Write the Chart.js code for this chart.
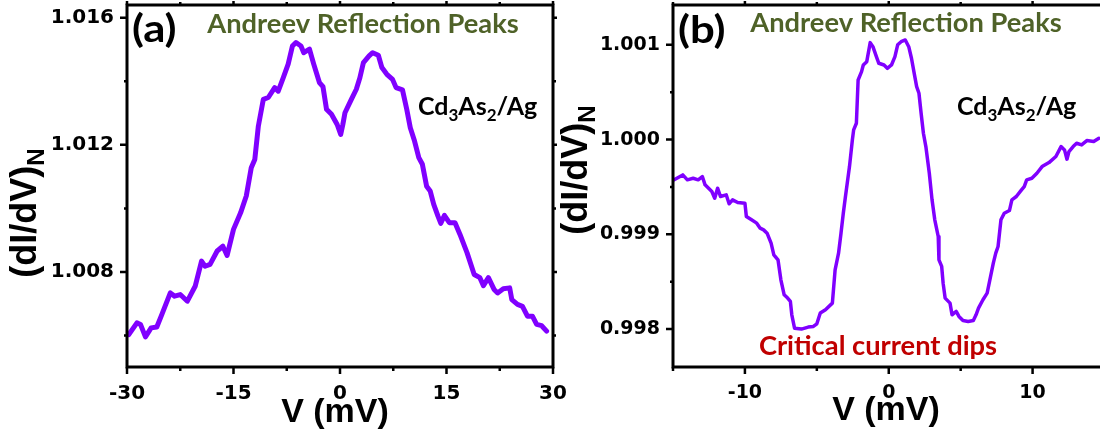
<!DOCTYPE html>
<html>
<head>
<meta charset="utf-8">
<script src="https://cdn.jsdelivr.net/npm/chart.js@4"></script>
<style>
  html, body { margin: 0; padding: 0; background: #fff; }
  #wrap { position: relative; width: 1100px; height: 432px; overflow: hidden; }
  #chartA { position: absolute; left: 0; top: 0; }
  #chartB { position: absolute; left: 560px; top: 0; }
</style>
</head>
<body>
<div id="wrap">
  <canvas id="chartA" width="580" height="432"></canvas>
  <canvas id="chartB" width="550" height="432"></canvas>
</div>
<script>
// panel (a): bias sweep -30..30 mV
const biasA = [-29.75,-28.6,-28.1,-27.4,-26.6,-25.8,-25.1,-23.9,-23.3,-22.5,-21.5,-20.4,-19.5,-19.0,-18.3,-17.3,-16.5,-15.9,-15.0,-14.0,
  -13.2,-12.5,-12.0,-11.5,-10.8,-10.1,-9.2,-8.7,-8.0,-7.3,-6.7,-6.2,-5.5,-5.1,-4.3,-3.7,-2.9,-2.4,-1.9,-1.2,
  -0.4,0.1,0.4,0.7,1.6,2.3,2.8,3.3,4.1,4.6,5.4,5.9,6.6,7.4,7.9,8.8,9.4,9.9,10.5,11.1,
  11.6,12.2,12.7,13.2,13.8,14.2,14.7,15.4,16.2,16.9,17.9,18.9,19.7,20.2,20.9,21.7,22.2,23.0,23.9,24.2,
  25.0,25.7,26.4,27.1,27.7,28.4,29.1];
const condA = [1.00603,1.00640,1.00635,1.00596,1.00624,1.00627,1.00666,1.00734,1.00724,1.00729,1.00708,1.00755,1.00834,1.00818,1.00824,1.00866,1.00881,1.00852,1.00934,1.00986,
  1.01039,1.01128,1.01154,1.01259,1.01343,1.01349,1.01380,1.01369,1.01411,1.01454,1.01511,1.01522,1.01511,1.01490,1.01501,1.01454,1.01396,1.01383,1.01312,1.01296,
  1.01264,1.01233,1.01264,1.01301,1.01343,1.01375,1.01411,1.01459,1.01480,1.01490,1.01482,1.01443,1.01422,1.01406,1.01380,1.01373,1.01312,1.01254,1.01212,1.01160,
  1.01139,1.01070,1.01055,1.01013,1.00976,1.00953,1.00978,1.00955,1.00955,1.00918,1.00860,1.00792,1.00782,1.00757,1.00782,1.00745,1.00734,1.00747,1.00750,1.00713,
  1.00698,1.00692,1.00661,1.00661,1.00635,1.00631,1.00614];
const xTicksA = [-30,-22.5,-15,-7.5,0,7.5,15,22.5,30];
const xLabelsA = [-30,-15,0,15,30];
const yTicksA = [1.006,1.008,1.010,1.012,1.014,1.016];
const yLabelsA = [1.008,1.012,1.016];

// panel (b): bias sweep -15..15 mV
const biasB = [-14.92,-14.32,-14.0,-13.6,-13.25,-12.96,-12.77,-12.3,-12.1,-11.9,
  -11.7,-11.3,-11.1,-10.86,-10.5,-10.0,-9.9,-9.54,-9.18,-8.94,
  -8.7,-8.46,-8.18,-7.99,-7.7,-7.5,-7.27,-7.03,-6.84,-6.74,
  -6.55,-6.07,-5.6,-5.24,-5.0,-4.76,-4.4,-3.92,-3.73,-3.49,
  -3.32,-3.16,-3.01,-2.73,-2.53,-2.44,-2.25,-2.13,-1.89,-1.77,
  -1.53,-1.29,-1.1,-0.86,-0.69,-0.33,-0.1,0.19,0.43,0.62,
  0.86,1.15,1.39,1.58,1.77,1.94,2.1,2.25,2.41,2.58,
  2.82,3.01,3.2,3.44,3.49,3.68,3.78,3.92,4.26,4.4,
  4.69,4.88,5.16,5.52,5.88,6.07,6.24,6.55,6.84,7.03,
  7.27,7.44,7.6,7.8,8.03,8.39,8.56,8.87,9.23,9.42,
  9.59,9.95,10.3,10.66,11.14,11.62,11.98,12.22,12.39,12.53,
  12.82,13.06,13.41,13.77,14.25,14.61];
const condB = [0.999575,0.999627,0.999575,0.999592,0.999575,0.99961,0.999522,0.999452,0.999381,0.999487,
  0.999399,0.999417,0.999322,0.999364,0.999336,0.999329,0.999188,0.999153,0.999118,0.999065,
  0.999047,0.999012,0.998907,0.998784,0.998731,0.99852,0.998362,0.998327,0.998292,0.998151,
  0.99801,0.998,0.998021,0.998028,0.998056,0.998169,0.998204,0.998274,0.998626,0.998801,
  0.999012,0.999223,0.999399,0.999715,0.999996,1.000102,1.000172,1.000629,1.000717,1.000787,
  1.000822,1.001023,1.00098,1.000875,1.000805,1.000787,1.000752,1.000787,1.000875,1.001,
  1.001033,1.001051,1.00098,1.000858,1.000699,1.000559,1.000489,1.000278,1.000067,0.999926,
  0.999645,0.999364,0.999153,0.998977,0.998731,0.998661,0.998485,0.998327,0.998274,0.998151,
  0.998186,0.998134,0.998091,0.998081,0.998091,0.998151,0.998221,0.99831,0.99838,0.99852,
  0.998696,0.998801,0.998872,0.999153,0.999223,0.999251,0.999364,0.999399,0.999469,0.999504,
  0.999575,0.999592,0.999645,0.999715,0.999757,0.999821,0.999926,0.999891,0.999793,0.999874,
  0.999926,0.999961,0.999944,0.999989,0.999979,1.000014];
const xTicksB = [-15,-10,-5,0,5,10,15];
const xLabelsB = [-10,0,10];
const yTicksB = [0.998,0.9985,0.999,0.9995,1.000,1.0005,1.001];
const yLabelsB = [0.998,0.999,1.000,1.001];

const LINE = '#8000ff';
const GREEN = '#4f6228';
const RED = '#c00000';

// box around the plot plus outward tick marks on all four sides
const frameTicks = {
  id: 'frameTicks',
  afterDatasetsDraw(chart, args, opts) {
    const { ctx, chartArea: a, scales: { x, y } } = chart;
    ctx.save();
    ctx.strokeStyle = '#000';
    ctx.lineWidth = 3;
    ctx.strokeRect(a.left, a.top, a.right - a.left, a.bottom - a.top);
    ctx.lineWidth = 2.5;
    ctx.beginPath();
    x.ticks.forEach(t => {
      const px = x.getPixelForValue(t.value);
      const big = opts.xMajor.includes(t.value);
      ctx.moveTo(px, a.bottom); ctx.lineTo(px, a.bottom + (big ? 7 : 4));
      ctx.moveTo(px, a.top); ctx.lineTo(px, a.top - (big ? 4 : 3));
    });
    y.ticks.forEach(t => {
      const py = y.getPixelForValue(t.value);
      const big = opts.yMajor.includes(t.value);
      ctx.moveTo(a.left, py); ctx.lineTo(a.left - (big ? 7 : 3), py);
      ctx.moveTo(a.right, py); ctx.lineTo(a.right + (big ? 4 : 3), py);
    });
    ctx.stroke();
    ctx.restore();
  }
};

// text runs with subscripts, optionally rotated or widened
function drawRuns(ctx, item) {
  const size = item.size;
  const subSize = Math.round(size * 0.66);
  const fontOf = (s) => `bold ${s}px ${item.family}`;
  let total = 0;
  item.runs.forEach(r => {
    ctx.font = fontOf(r.sub ? subSize : size);
    r.w = ctx.measureText(r.t).width;
    total += r.w;
  });
  ctx.save();
  ctx.translate(item.x, item.y);
  if (item.rotate) ctx.rotate(-Math.PI / 2);
  if (item.sx) ctx.scale(item.sx, 1);
  ctx.fillStyle = item.color || '#000';
  ctx.textBaseline = 'alphabetic';
  ctx.textAlign = 'left';
  let cx = item.align === 'left' ? 0 : -total / 2;
  item.runs.forEach(r => {
    ctx.font = fontOf(r.sub ? subSize : size);
    ctx.fillText(r.t, cx, r.sub ? size * 0.22 : 0);
    cx += r.w;
  });
  ctx.restore();
}

const notes = {
  id: 'notes',
  afterDraw(chart, args, opts) {
    opts.items.forEach(it => drawRuns(chart.ctx, it));
  }
};

function panel(id, o) {
  const points = o.bias.map((v, i) => ({ x: v, y: o.cond[i] }));
  return new Chart(document.getElementById(id), {
    type: 'line',
    data: {
      datasets: [{
        data: points,
        borderColor: LINE,
        borderWidth: o.lineWidth,
        pointRadius: 0,
        tension: 0,
        borderJoinStyle: 'round',
        borderCapStyle: 'round',
        fill: false
      }]
    },
    options: {
      responsive: false,
      animation: false,
      devicePixelRatio: 1,
      layout: { padding: { left: 0, right: o.padRight, top: 5, bottom: 0 } },
      plugins: {
        legend: { display: false },
        tooltip: { enabled: false },
        frameTicks: { xMajor: o.xLabels, yMajor: o.yLabels },
        notes: { items: o.notes }
      },
      scales: {
        x: {
          type: 'linear',
          min: o.xMin, max: o.xMax,
          afterBuildTicks: s => { s.ticks = o.xTicks.map(v => ({ value: v })); },
          afterFit: s => { s.height = 65; s.paddingLeft = 0; s.paddingRight = 0; },
          grid: { display: false, drawTicks: false },
          border: { display: false },
          ticks: {
            autoSkip: false, maxRotation: 0, padding: 15, color: '#000',
            font: { family: 'DejaVu Sans', weight: 'bold', size: o.tickSize },
            callback: v => o.xLabels.includes(v) ? String(v) : ''
          }
        },
        y: {
          min: o.yMin, max: o.yMax,
          afterBuildTicks: s => { s.ticks = o.yTicks.map(v => ({ value: v })); },
          afterFit: s => { s.width = o.yWidth; s.paddingTop = 0; s.paddingBottom = 0; },
          grid: { display: false, drawTicks: false },
          border: { display: false },
          ticks: {
            autoSkip: false, padding: 13, color: '#000',
            font: { family: 'DejaVu Sans', weight: 'bold', size: o.tickSize },
            callback: v => o.yLabels.includes(v) ? v.toFixed(3) : ''
          }
        }
      }
    },
    plugins: [frameTicks, notes]
  });
}

const yTitle = [{ t: '(dI/dV)' }, { t: 'N', sub: true }];
const sample = [{ t: 'Cd' }, { t: '3', sub: true }, { t: 'As' }, { t: '2', sub: true }, { t: '/Ag' }];

panel('chartA', {
  bias: biasA, cond: condA, lineWidth: 5,
  xMin: -30, xMax: 30, yMin: 1.00501, yMax: 1.0164,
  xTicks: xTicksA, xLabels: xLabelsA, yTicks: yTicksA, yLabels: yLabelsA,
  yWidth: 127, padRight: 27, tickSize: 20,
  notes: [
    { runs: [{ t: '(a)' }], family: 'Lato', size: 38, x: 132, y: 42, align: 'left', sx: 1.15 },
    { runs: [{ t: 'Andreev Reflection Peaks' }], family: 'Lato', size: 26, x: 363, y: 33, color: GREEN, sx: 1.05 },
    { runs: sample, family: 'Lato', size: 25, x: 418, y: 115, align: 'left' },
    { runs: yTitle, family: 'Liberation Sans', size: 36, x: 36, y: 213, rotate: true },
    { runs: [{ t: 'V (mV)' }], family: 'Liberation Sans', size: 34, x: 335, y: 422 }
  ]
});

panel('chartB', {
  bias: biasB, cond: condB, lineWidth: 3.5,
  xMin: -15, xMax: 15, yMin: 0.99760, yMax: 1.00142,
  xTicks: xTicksB, xLabels: xLabelsB, yTicks: yTicksB, yLabels: yLabelsB,
  yWidth: 113, padRight: 5.5, tickSize: 19,
  notes: [
    { runs: [{ t: '(b)' }], family: 'Lato', size: 38, x: 118, y: 43, align: 'left', sx: 1.15 },
    { runs: [{ t: 'Andreev Reflection Peaks' }], family: 'Lato', size: 26, x: 346, y: 32, color: GREEN, sx: 1.05 },
    { runs: sample, family: 'Lato', size: 25, x: 397, y: 115, align: 'left' },
    { runs: [{ t: 'Critical current dips' }], family: 'Lato', size: 26, x: 318, y: 355, color: RED, sx: 1.05 },
    { runs: yTitle, family: 'Liberation Sans', size: 36, x: 27, y: 170, rotate: true },
    { runs: [{ t: 'V (mV)' }], family: 'Liberation Sans', size: 34, x: 326, y: 420 }
  ]
});
</script>
</body>
</html>
